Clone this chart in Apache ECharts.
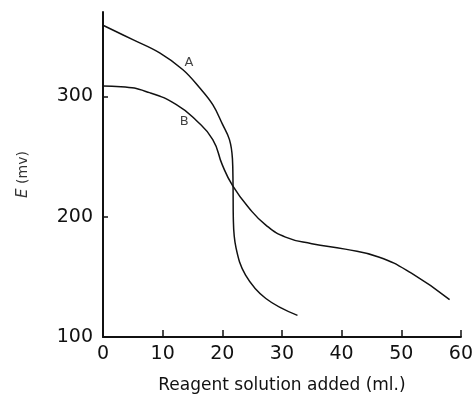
<!DOCTYPE html>
<html>
<head>
<meta charset="utf-8">
<script src="https://cdn.jsdelivr.net/npm/echarts@6/dist/echarts.min.js"></script>
<style>
  html, body { margin: 0; padding: 0; background: #fff; }
  #chart { width: 476px; height: 399px; }
</style>
</head>
<body>
<div id="chart"></div>
<script>
// curve A (steep break near 22 ml)
var volA = [0, 5, 9.5, 13.4, 16.2, 18.4, 20, 21.2, 21.7, 21.8, 21.85, 22.3, 23.9, 27.3, 32.6];
var emfA = [359, 347, 336, 322, 307, 293, 277, 264, 248, 226, 198, 174, 151.5, 132, 118];
// curve B
var volB = [0, 3, 7.8, 12.3, 15.6, 18.4, 20, 21.7, 24.5, 27.3, 30.6, 35, 40.6, 46.2, 51.7, 58.1];
var emfB = [308.5, 308, 303, 293, 280, 264, 243, 226, 207, 193, 183, 177.5, 173, 166.5, 153, 131];
// curve labels
var curveNames = ['A', 'B'];
var labelVol = [14.4, 13.6];
var labelEmf = [328, 279];
var xTicks = [0, 10, 20, 30, 40, 50, 60];
var yTicks = [100, 200, 300];

function pairs(xs, ys) {
  return xs.map(function (x, i) { return [x, ys[i]]; });
}

var chart = echarts.init(document.getElementById('chart'));
var font = 'DejaVu Sans';
var option = {
  backgroundColor: '#fff',
  animation: false,
  grid: { left: 103, right: 13, top: 12, bottom: 60 },
  xAxis: {
    type: 'value', min: 0, max: 60, interval: 10,
    name: 'Reagent solution added (ml.)',
    nameLocation: 'middle', nameGap: 40,
    nameTextStyle: { fontFamily: font, fontSize: 17, color: '#111' },
    axisLine: { lineStyle: { color: '#111', width: 2 } },
    axisTick: { inside: true, length: 7, lineStyle: { color: '#111', width: 1.5 } },
    axisLabel: { fontFamily: font, fontSize: 19, color: '#111', margin: 8, customValues: xTicks },
    splitLine: { show: false }
  },
  yAxis: {
    type: 'value', min: 100, max: 370, interval: 100,
    name: '{e|E} (mv)',
    nameLocation: 'middle', nameGap: 72, nameRotate: 90,
    nameTextStyle: {
      fontFamily: font, fontSize: 14, color: '#333',
      rich: { e: { fontStyle: 'italic', fontFamily: font, fontSize: 15, color: '#333' } }
    },
    axisLine: { lineStyle: { color: '#111', width: 2 } },
    axisTick: { inside: true, length: 5, lineStyle: { color: '#111', width: 1.5 }, customValues: yTicks },
    axisLabel: { fontFamily: font, fontSize: 19, color: '#111', margin: 10, customValues: yTicks },
    splitLine: { show: false }
  },
  series: [
    {
      type: 'line', data: pairs(volA, emfA), smooth: 0.4,
      showSymbol: false, lineStyle: { color: '#111', width: 1.5 }
    },
    {
      type: 'line', data: pairs(volB, emfB), smooth: 0.5,
      showSymbol: false, lineStyle: { color: '#111', width: 1.5 }
    },
    {
      type: 'scatter', symbolSize: 0,
      data: labelVol.map(function (v, i) { return { value: [v, labelEmf[i]], name: curveNames[i] }; }),
      label: {
        show: true, position: 'inside', formatter: '{b}',
        fontFamily: font, fontSize: 13, color: '#111'
      }
    }
  ]
};
chart.setOption(option, true);
</script>
</body>
</html>
